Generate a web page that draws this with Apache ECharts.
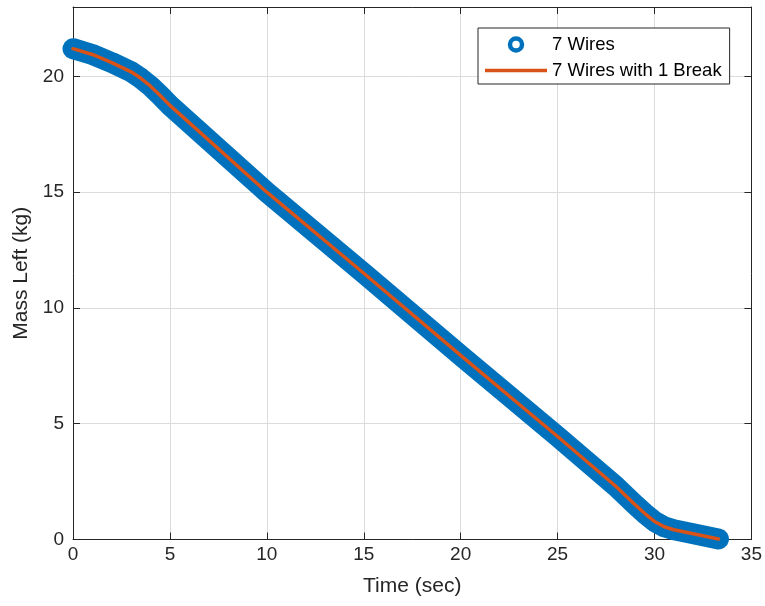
<!DOCTYPE html>
<html>
<head>
<meta charset="utf-8">
<title>Mass Left vs Time</title>
<script src="https://cdn.jsdelivr.net/npm/echarts@6/dist/echarts.min.js"></script>
<style>
  html, body { margin: 0; padding: 0; background: #ffffff; }
  #chart { width: 765px; height: 606px; }
</style>
</head>
<body>
<div id="chart"></div>
<script>
// Burn-down of remaining mass over time
const timeSec = [0, 1, 2, 3, 3.5, 4, 4.5, 5, 10, 15, 20, 25, 28, 29, 29.5, 30, 30.5, 31, 32, 33.3];
const massIntact = [21.2, 20.95, 20.6, 20.2, 19.92, 19.58, 19.18, 18.75, 15.0, 11.5, 7.95, 4.45, 2.3, 1.5, 1.12, 0.78, 0.55, 0.42, 0.25, 0.02];
const massBroken = [21.2, 20.95, 20.6, 20.2, 19.92, 19.58, 19.18, 18.75, 15.0, 11.5, 7.95, 4.45, 2.3, 1.5, 1.12, 0.78, 0.55, 0.42, 0.25, 0.02];
const seriesNames = ['7 Wires', '7 Wires with 1 Break'];
const xTitle = 'Time (sec)';
const yTitle = 'Mass Left (kg)';

const FONT = "'Liberation Sans', Arial, Helvetica, sans-serif";
const INK = '#262626';
const GRID = '#dcdcdc';
const BLUE = '#0072BD';
const ORANGE = '#D95319';

const pairs = (xs, ys) => xs.map((x, i) => [x, ys[i]]);

const chart = echarts.init(document.getElementById('chart'), null, { renderer: 'canvas' });

const frameAxis = {
  type: 'value',
  axisLine: { show: true, onZero: false, lineStyle: { color: INK, width: 1 } },
  axisTick: { show: true, inside: true, length: 7, lineStyle: { color: INK } },
  axisLabel: { show: false },
  splitLine: { show: false }
};

chart.setOption({
  animation: false,
  backgroundColor: '#ffffff',
  grid: { left: 73, right: 13, top: 7, bottom: 66.5, containLabel: false },
  xAxis: [
    {
      type: 'value', min: 0, max: 35, interval: 5,
      name: xTitle, nameLocation: 'middle', nameGap: 36,
      nameTextStyle: { fontFamily: FONT, fontSize: 21, color: INK },
      axisLine: { show: true, onZero: false, lineStyle: { color: INK, width: 1 } },
      axisTick: { show: true, inside: true, length: 7, lineStyle: { color: INK } },
      axisLabel: { fontFamily: FONT, fontSize: 19, color: INK, margin: 6 },
      splitLine: { show: true, lineStyle: { color: GRID, width: 1 } }
    },
    Object.assign({}, frameAxis, { position: 'top', min: 0, max: 35, interval: 5 })
  ],
  yAxis: [
    {
      type: 'value', min: 0, max: 23, interval: 5,
      name: yTitle, nameLocation: 'middle', nameGap: 38,
      nameTextStyle: { fontFamily: FONT, fontSize: 21, color: INK },
      axisLine: { show: true, onZero: false, lineStyle: { color: INK, width: 1 } },
      axisTick: { show: true, inside: true, length: 7, lineStyle: { color: INK } },
      axisLabel: { fontFamily: FONT, fontSize: 19, color: INK, margin: 9, showMaxLabel: false },
      splitLine: { show: true, lineStyle: { color: GRID, width: 1 } }
    },
    Object.assign({}, frameAxis, { position: 'right', min: 0, max: 23, interval: 5 })
  ],
  legend: {
    orient: 'vertical',
    left: 478, top: 28,
    padding: [7, 8, 4, 7],
    itemGap: 7,
    itemWidth: 62, itemHeight: 12,
    backgroundColor: '#ffffff',
    borderColor: INK, borderWidth: 1, borderRadius: 0,
    textStyle: { fontFamily: FONT, fontSize: 18.5, color: '#000000' },
    data: [
      { name: seriesNames[0], icon: 'circle',
        itemStyle: { color: '#ffffff', borderColor: BLUE, borderWidth: 4.5 } },
      { name: seriesNames[1], icon: 'path://M0,0 H62 V3.5 H0 Z',
        itemStyle: { color: ORANGE, borderWidth: 0 } }
    ]
  },
  series: [
    {
      name: seriesNames[0], type: 'line',
      data: pairs(timeSec, massIntact),
      symbol: 'none',
      itemStyle: { color: BLUE },
      lineStyle: { color: BLUE, width: 21, cap: 'round', join: 'round' },
      z: 2
    },
    {
      name: seriesNames[1], type: 'line',
      data: pairs(timeSec, massBroken),
      symbol: 'none',
      itemStyle: { color: ORANGE },
      lineStyle: { color: ORANGE, width: 3.5, cap: 'round', join: 'round' },
      z: 3
    }
  ]
});
</script>
</body>
</html>
